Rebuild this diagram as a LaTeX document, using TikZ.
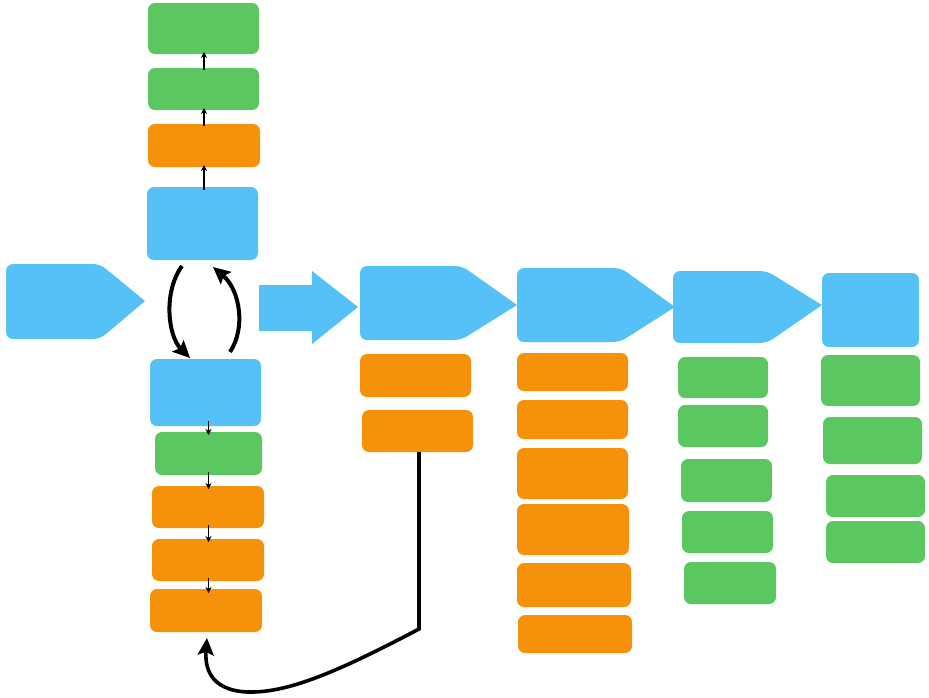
\documentclass[tikz,border=0pt]{standalone}
\usetikzlibrary{arrows.meta,calc}
\definecolor{cblue}{HTML}{56C1F6}
\definecolor{cgreen}{HTML}{5BC760}
\definecolor{corange}{HTML}{F5920A}
\newcommand\mybox[6]{\node[#2, minimum width=#5pt, minimum height=#6pt] (#1) at (#3,#4) {};}
\tikzset{
  boxbase/.style={rectangle, rounded corners=7pt, inner sep=0pt, outer sep=0pt, draw=none},
  bbox/.style={boxbase, fill=cblue},
  gbox/.style={boxbase, fill=cgreen},
  obox/.style={boxbase, fill=corange},
  penta/.style={fill=cblue},
  smallarrow/.style={line width=1.3pt, -{Stealth[length=6pt,width=6pt]}},
  bigarrow/.style={line width=4pt, -{Stealth[length=17pt,width=16pt,inset=3pt]}},
  linkline/.style={line width=3.6pt},
}
\begin{document}
\begin{tikzpicture}[x=1pt,y=-1pt]
\useasboundingbox (0,0) rectangle (929,697);
\fill[white] (0,0) rectangle (929,697);

% top column
\mybox{g1}{gbox}{203.5}{28.5}{111}{51}
\mybox{g2}{gbox}{203.5}{89}{111}{42}
\mybox{o1}{obox}{204}{145.5}{112}{43}
\mybox{b1}{bbox}{202.5}{223.5}{111}{73}

% bottom column
\mybox{b2}{bbox}{205.5}{392.5}{111}{67}
\mybox{g3}{gbox}{208.5}{453.5}{107}{43}
\mybox{o2}{obox}{208}{507}{112}{42}
\mybox{o3}{obox}{208}{560}{112}{42}
\mybox{o4}{obox}{206}{610.5}{112}{43}

% column 2
\mybox{o5}{obox}{415.5}{375.5}{111}{43}
\mybox{o6}{obox}{417.5}{431}{111}{42}

% column 3
\mybox{o7}{obox}{572.5}{372}{111}{38}
\mybox{o8}{obox}{572.5}{419.5}{111}{39}
\mybox{o9}{obox}{572.5}{473.5}{111}{51}
\mybox{o10}{obox}{573}{529.5}{112}{51}
\mybox{o11}{obox}{574}{585}{114}{44}
\mybox{o12}{obox}{575}{634}{114}{38}

% column 4
\mybox{g4}{gbox}{723}{377.5}{90}{41}
\mybox{g5}{gbox}{723}{426}{90}{42}
\mybox{g6}{gbox}{726.5}{480.5}{91}{43}
\mybox{g7}{gbox}{727.5}{532}{91}{42}
\mybox{g8}{gbox}{730}{583}{92}{42}

% column 5
\mybox{b3}{bbox}{870.5}{310}{97}{74}
\mybox{g9}{gbox}{870.5}{380.5}{99}{51}
\mybox{g10}{gbox}{872.5}{440.5}{99}{47}
\mybox{g11}{gbox}{875.5}{496}{99}{42}
\mybox{g12}{gbox}{875.5}{542}{99}{42}

% pentagons
\fill[penta] (145,301) [rounded corners=7pt] -- (100,339) -- (6,339) -- (6,264) -- (100,264) [sharp corners] -- cycle;
\fill[penta] (517,305) [rounded corners=7pt] -- (461,340) -- (360,340) -- (360,266) -- (462,266) [sharp corners] -- cycle;
\fill[penta] (675,307) [rounded corners=7pt] -- (620,342) -- (517,342) -- (517,268) -- (621,268) [sharp corners] -- cycle;
\fill[penta] (822,305) [rounded corners=7pt] -- (767,343) -- (673,343) -- (673,271) -- (767,271) [sharp corners] -- cycle;

% block arrow
\fill[penta] (259,285) -- (312,285) -- (312,271) -- (358,307) -- (312,344) -- (312,331) -- (259,331) -- cycle;

% small arrows, top column
\draw[smallarrow] ($(o1.south |- b1.north)+(0,3)$) -- ($(o1.south)+(0,-2)$);
\draw[smallarrow] ($(o1.north)+(0,2)$) -- ($(o1.north |- g2.south)+(0,-2)$);
\draw[smallarrow] ($(o1.north |- g2.north)+(0,2)$) -- ($(o1.north |- g1.south)+(0,-2)$);

% small arrows, bottom column
\draw[smallarrow] ($(g3.north |- b2.south)+(0,-5)$) -- ($(g3.north)+(0,3)$);
\draw[smallarrow] ($(g3.south)+(0,-3)$) -- ($(g3.south |- o2.north)+(0,3)$);
\draw[smallarrow] ($(g3.south |- o2.south)+(0,-3)$) -- ($(g3.south |- o3.north)+(0,3)$);
\draw[smallarrow] ($(g3.south |- o3.south)+(0,-3)$) -- ($(g3.south |- o4.north)+(0,4)$);

% curved arrows between the two blue boxes
\draw[bigarrow] ($(b1.south)+(-20.5,6)$) .. controls (163,292) and (168,336) .. ($(b2.north)+(-15.5,-1)$);
\draw[bigarrow] ($(b2.north)+(24.5,-7)$) .. controls (246,328) and (240,290) .. ($(b1.south)+(10.5,7)$);

% feedback line
\coordinate (c1) at (419,629);
\draw[linkline, -{Stealth[length=17pt,width=16pt,inset=3pt]}] ($(o6.south)+(1.5,0)$) -- (c1)
  .. controls (330,676) and (285,693) .. (247,692)
  .. controls (208,690) and (205,665) .. ($(o4.south)+(1,6)$);
\end{tikzpicture}
\end{document}
